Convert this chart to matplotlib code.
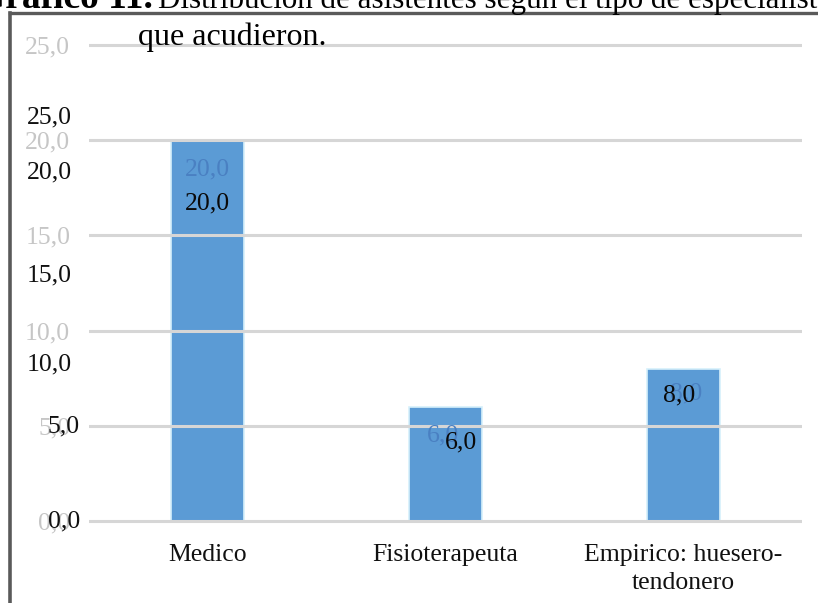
import matplotlib
matplotlib.use("Agg")
import matplotlib.pyplot as plt
from matplotlib.lines import Line2D

categories = ["Medico", "Fisioterapeuta", "Empirico: huesero-\ntendonero"]
values = [20.0, 6.0, 8.0]
yticks = [0, 5, 10, 15, 20, 25]
ytick_labels = ["0,0", "5,0", "10,0", "15,0", "20,0", "25,0"]
value_labels = ["20,0", "6,0", "8,0"]

# overlaid (scanned) duplicate y labels: text and vertical placement
overlay_ylabels = ["25,0", "20,0", "15,0", "10,0", "5,0", "0,0"]
overlay_ylabel_pos = [21.2, 18.3, 12.9, 8.2, 4.95, 0.0]
overlay_ylabel_dx = [-17, -17, -17, -17, -9, -9]  # px from axes left

# offsets (px) of the two copies of each bar label from the bar top
faded_off = [(0, -29), (-3, -29), (3, -25)]
dark_off = [(0, -63), (15, -36), (-4, -27)]

plt.rcParams["font.family"] = ["Liberation Serif", "DejaVu Serif"]

W, H = 818, 603
fig = plt.figure(figsize=(W / 100, H / 100), dpi=100)
fig.patch.set_facecolor("white")

ppu = 476 / 25.0
ax_bottom_px = 521 + 0.2 * ppu
ax_top_px = 45 - 0.2 * ppu
ax = fig.add_axes([89 / W, (H - ax_bottom_px) / H, 713 / W, (ax_bottom_px - ax_top_px) / H])

x = list(range(len(categories)))
ax.bar(x, values, width=0.307, color="#5b9bd5", edgecolor="#d6f0fb", linewidth=1.2, zorder=1)

ax.set_xlim(-0.5, 2.5)
ax.set_ylim(-0.2, 25.2)
ax.set_yticks(yticks)
ax.set_yticklabels(ytick_labels, color="#c6c6c6", fontsize=18.5)
ax.set_xticks(x)
ax.set_xticklabels(categories, fontsize=18.5, color="#111111", linespacing=1.35)
ax.tick_params(axis="both", length=0)
ax.tick_params(axis="y", pad=13.5)
ax.tick_params(axis="x", pad=13.5)
for s in ax.spines.values():
    s.set_visible(False)
ax.set_axisbelow(False)
ax.yaxis.grid(True, color="#d6d6d6", linewidth=2.2, zorder=2)
ax.xaxis.grid(False)

for lab, yv, dx in zip(overlay_ylabels, overlay_ylabel_pos, overlay_ylabel_dx):
    ax.annotate(lab, xy=(0, yv), xycoords=("axes fraction", "data"),
                xytext=(dx * 0.72, 0), textcoords="offset points",
                ha="right", va="center", fontsize=18.5, color="#111111",
                annotation_clip=False)

for i, (v, lab) in enumerate(zip(values, value_labels)):
    fx, fy = faded_off[i]
    ax.annotate(lab, xy=(i, v), xytext=(fx * 0.72, fy * 0.72), textcoords="offset points",
                ha="center", va="center", fontsize=18.5, color="#4a80c2", zorder=4)
    dx, dy = dark_off[i]
    ax.annotate(lab, xy=(i, v), xytext=(dx * 0.72, dy * 0.72), textcoords="offset points",
                ha="center", va="center", fontsize=18.5, color="#0a0a0a", zorder=5)

# frame of the scanned page
fig.add_artist(Line2D([10 / W, 10 / W], [0, 1 - 13 / H], transform=fig.transFigure,
                      color="#5a5a5a", linewidth=2.6))
fig.add_artist(Line2D([10 / W, 1], [1 - 13 / H, 1 - 13 / H], transform=fig.transFigure,
                      color="#5a5a5a", linewidth=2.4))

# clipped caption at the top
fig.text(153 / W, 1 - 8 / H, "Gráfico 11.", ha="right", va="baseline",
         fontsize=27, fontweight="bold", color="#000000")
fig.text(158 / W, 1 - 8 / H, "Distribución de asistentes según el tipo de especialista",
         ha="left", va="baseline", fontsize=22.3, color="#000000")
fig.text(138 / W, 1 - 45 / H, "que acudieron.", ha="left", va="baseline",
         fontsize=23, color="#000000")

fig.savefig("out.png", dpi=100, facecolor="white")
